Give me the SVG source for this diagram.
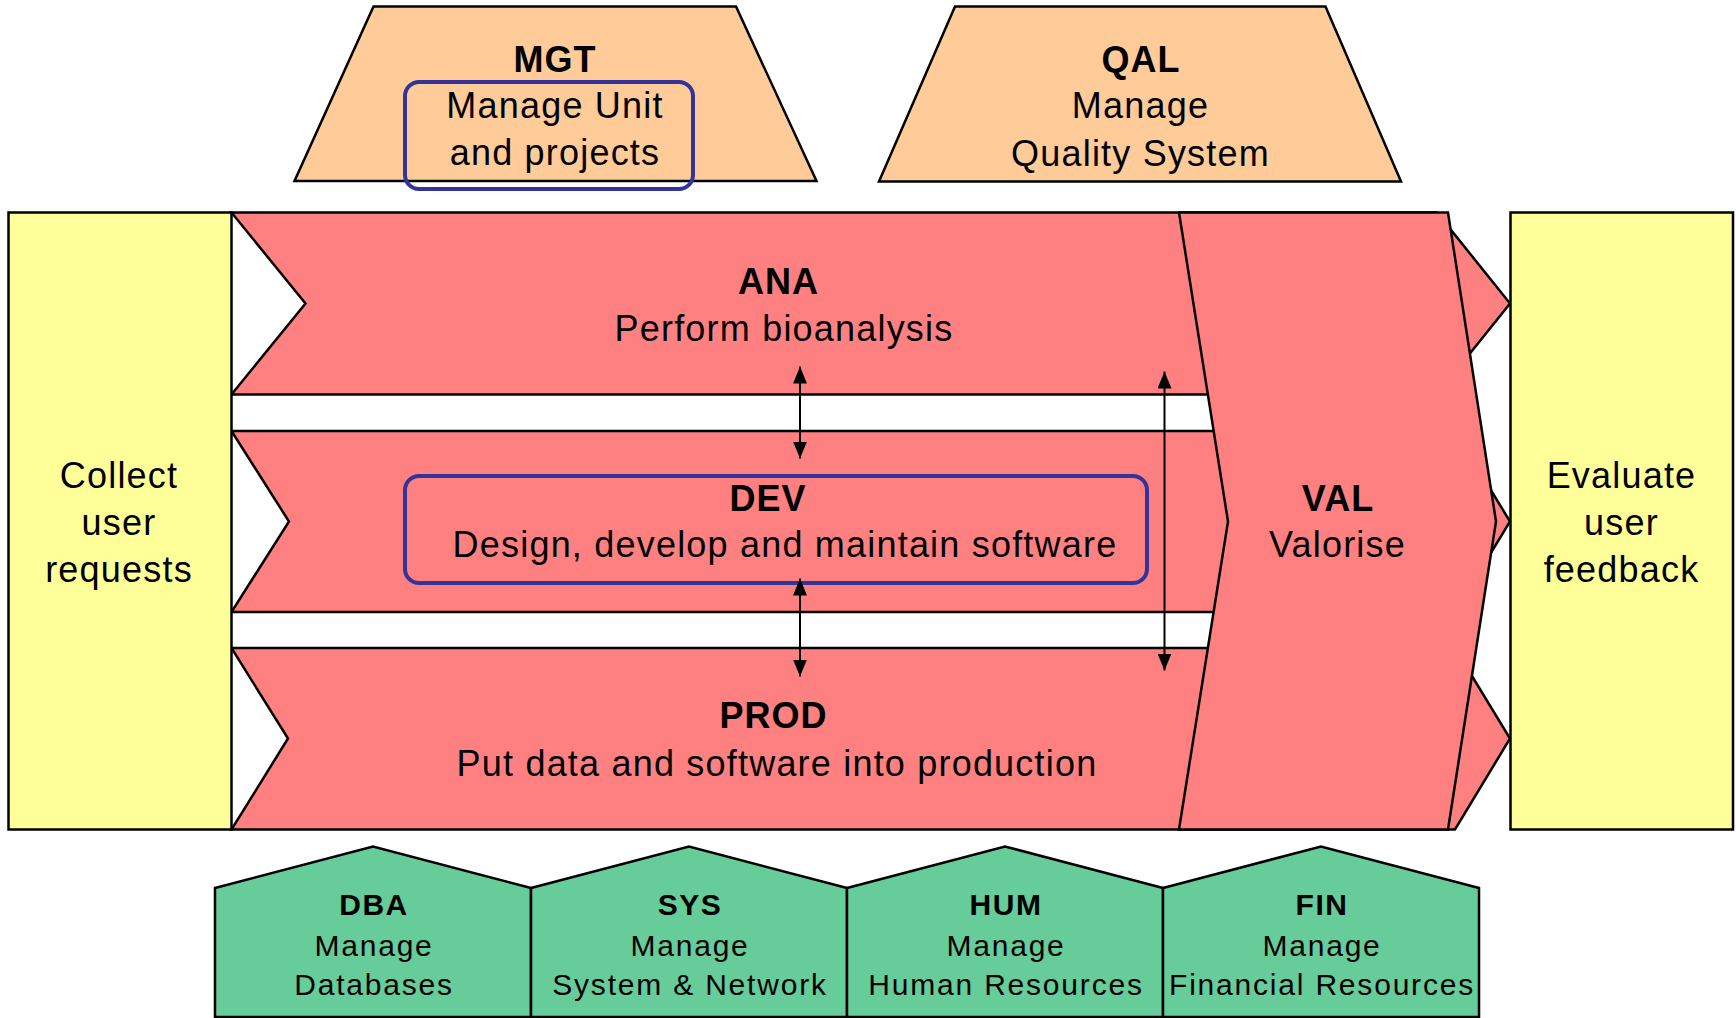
<svg xmlns="http://www.w3.org/2000/svg" width="1736" height="1018" viewBox="0 0 1736 1018">
<style>
  .shape { stroke: #000; stroke-width: 2.5; stroke-linejoin: miter; }
  .band { fill: #FF8080; }
  .yellow { fill: #FFFF99; }
  .peach { fill: #FFCC99; }
  .green { fill: #66CC99; }
  .hl { fill: none; stroke: #333399; stroke-width: 4; }
  text { font-family: "Liberation Sans", Arial, sans-serif; fill: #000; text-anchor: middle; }
  .t { font-size: 36px; letter-spacing: 1.2px; }
  .tb { font-size: 36px; font-weight: bold; letter-spacing: 1px; }
  .s { font-size: 30px; letter-spacing: 1.8px; }
  .sb { font-size: 30px; font-weight: bold; letter-spacing: 1.5px; }
  .conn { stroke: #000; stroke-width: 2; fill: none; marker-start: url(#ah); marker-end: url(#ah); }
</style>
<defs>
  <marker id="ah" markerUnits="userSpaceOnUse" markerWidth="17" markerHeight="14" viewBox="0 0 17 14" refX="17" refY="7" orient="auto-start-reverse">
    <path d="M0,0 L17,7 L0,14 Z" fill="#000"/>
  </marker>
</defs>
<rect width="1736" height="1018" fill="#fff"/>

<g id="MGT">
  <polygon class="shape peach" points="373.5,6.5 736,6.5 816.5,181 294.5,181"/>
  <rect class="hl" x="405" y="82" width="288" height="107" rx="14"/>
  <text class="tb" x="555" y="71.5">MGT</text>
  <text class="t" x="555" y="118">Manage Unit</text>
  <text class="t" x="555" y="165">and projects</text>
</g>

<g id="QAL">
  <polygon class="shape peach" points="955,6.5 1325.5,6.5 1401,181.5 879,181.5"/>
  <text class="tb" x="1141" y="71.5">QAL</text>
  <text class="t" x="1140.5" y="118">Manage</text>
  <text class="t" x="1140.5" y="165.5">Quality System</text>
</g>

<g id="ANA">
  <polygon class="shape band" points="231.5,212.5 1437,212.5 1510,303.5 1437,394.5 231.5,394.5 305.5,303.5"/>
  <text class="tb" x="778.5" y="294">ANA</text>
  <text class="t" x="784" y="340.5">Perform bioanalysis</text>
</g>

<g id="DEV">
  <polygon class="shape band" points="231.5,431 1455,431 1510,521.5 1455,612 231.5,612 289,521.5"/>
  <rect class="hl" x="405" y="476" width="742" height="107" rx="14"/>
  <text class="tb" x="768" y="510.5">DEV</text>
  <text class="t" x="785" y="557">Design, develop and maintain software</text>
</g>

<g id="PROD">
  <polygon class="shape band" points="231.5,648 1455,648 1510,738.5 1455,829.5 231.5,829.5 288,738.5"/>
  <text class="tb" x="773.5" y="728">PROD</text>
  <text class="t" x="777" y="775.5">Put data and software into production</text>
</g>

<g id="VAL">
  <polygon class="shape band" points="1179,212.5 1448,212.5 1496,521.5 1448,829.5 1179,829.5 1228,521.5"/>
  <text class="tb" x="1338" y="510.5">VAL</text>
  <text class="t" x="1337.5" y="557">Valorise</text>
</g>

<g id="COLLECT">
  <rect class="shape yellow" x="8.5" y="212.5" width="223" height="617"/>
  <text class="t" x="119" y="488">Collect</text>
  <text class="t" x="119" y="535">user</text>
  <text class="t" x="119" y="581.5">requests</text>
</g>

<g id="EVALUATE">
  <rect class="shape yellow" x="1510.5" y="212.5" width="222.5" height="617"/>
  <text class="t" x="1621.5" y="487.5">Evaluate</text>
  <text class="t" x="1621.5" y="535">user</text>
  <text class="t" x="1621.5" y="581.5">feedback</text>
</g>

<g id="DBA">
  <polygon class="shape green" points="215,888 373,846.5 531,888 531,1017 215,1017"/>
  <text class="sb" x="374" y="915">DBA</text>
  <text class="s" x="374" y="955.5">Manage</text>
  <text class="s" x="374" y="994.5">Databases</text>
</g>

<g id="SYS">
  <polygon class="shape green" points="531,888 689,846.5 847,888 847,1017 531,1017"/>
  <text class="sb" x="690" y="915">SYS</text>
  <text class="s" x="690" y="955.5">Manage</text>
  <text class="s" x="690" y="994.5">System &amp; Network</text>
</g>

<g id="HUM">
  <polygon class="shape green" points="847,888 1005,846.5 1163,888 1163,1017 847,1017"/>
  <text class="sb" x="1006" y="915">HUM</text>
  <text class="s" x="1006" y="955.5">Manage</text>
  <text class="s" x="1006" y="994.5">Human Resources</text>
</g>

<g id="FIN">
  <polygon class="shape green" points="1163,888 1321,846.5 1479,888 1479,1017 1163,1017"/>
  <text class="sb" x="1322" y="915">FIN</text>
  <text class="s" x="1322" y="955.5">Manage</text>
  <text class="s" x="1322" y="994.5">Financial Resources</text>
</g>

<g id="connectors">
  <line class="conn" x1="800" y1="366.5" x2="800" y2="458.5"/>
  <line class="conn" x1="800" y1="578.5" x2="800" y2="676.5"/>
  <line class="conn" x1="1164.5" y1="371.5" x2="1164.5" y2="670.5"/>
</g>
</svg>
